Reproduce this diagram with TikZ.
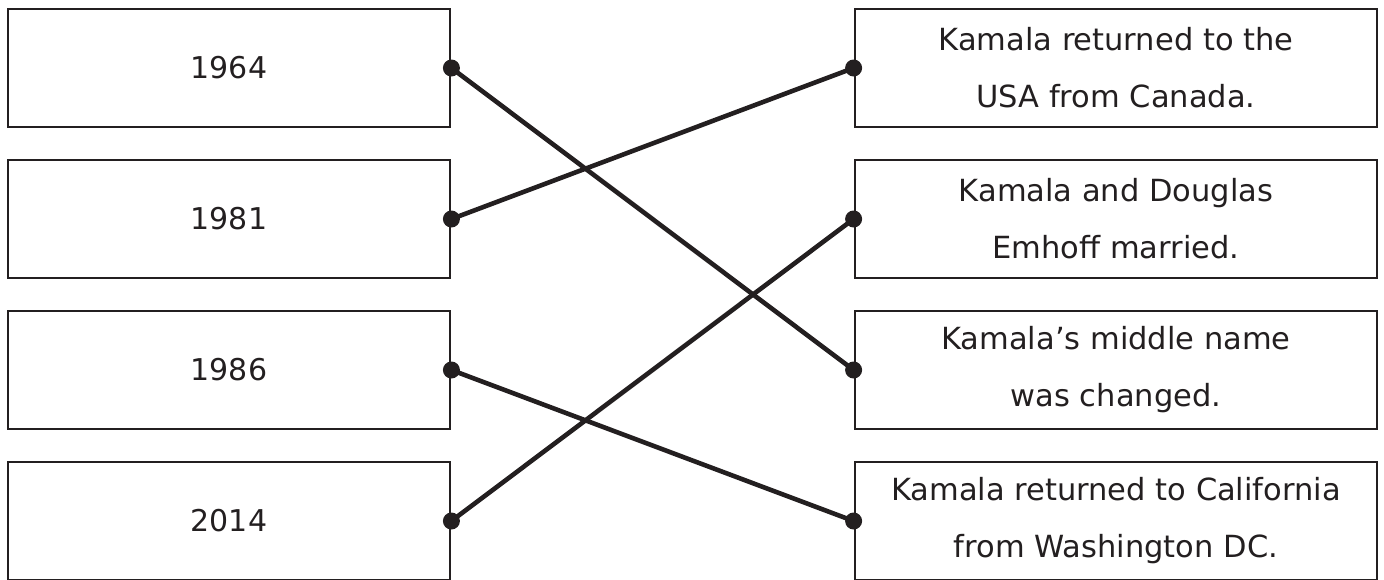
\documentclass[tikz,border=0pt]{standalone}
\usepackage{fontspec}
\setmainfont{DejaVu Sans}
\definecolor{ink}{HTML}{231F20}
\begin{document}
\begin{tikzpicture}[x=1pt,y=-1pt,
  yearbox/.style={draw=ink,line width=2.8pt,minimum width=442pt,minimum height=118pt,inner sep=0pt,text=ink,font=\fontsize{30}{36}\selectfont},
  eventbox/.style={draw=ink,line width=2.8pt,minimum width=522pt,minimum height=118pt,inner sep=0pt,text=ink,align=center,font=\fontsize{30.5}{57}\selectfont},
  link/.style={draw=ink,line width=4.6pt},
  dot/.style={circle,fill=ink,inner sep=0pt,minimum size=17pt}]
\useasboundingbox (0,0) rectangle (1384,579);
\clip (0,0) rectangle (1384,579);
\node[yearbox] (y1) at (229,68) {1964};
\node[yearbox] (y2) at (229,219) {1981};
\node[yearbox] (y3) at (229,370) {1986};
\node[yearbox] (y4) at (229,521) {2014};
\node[eventbox] (e1) at (1116,68) {Kamala returned to the\\USA from Canada.};
\node[eventbox] (e2) at (1116,219) {Kamala and Douglas\\Emhoff married.};
\node[eventbox] (e3) at (1116,370) {Kamala’s middle name\\was changed.};
\node[eventbox] (e4) at (1116,521) {Kamala returned to California\\from Washington DC.};
\draw[link] (y1.east) -- (e3.west);
\draw[link] (y2.east) -- (e1.west);
\draw[link] (y3.east) -- (e4.west);
\draw[link] (y4.east) -- (e2.west);
\foreach \n in {y1,y2,y3,y4} \node[dot] (d\n) at (\n.east) {};
\foreach \n in {e1,e2,e3,e4} \node[dot] (d\n) at (\n.west) {};
\end{tikzpicture}
\end{document}
